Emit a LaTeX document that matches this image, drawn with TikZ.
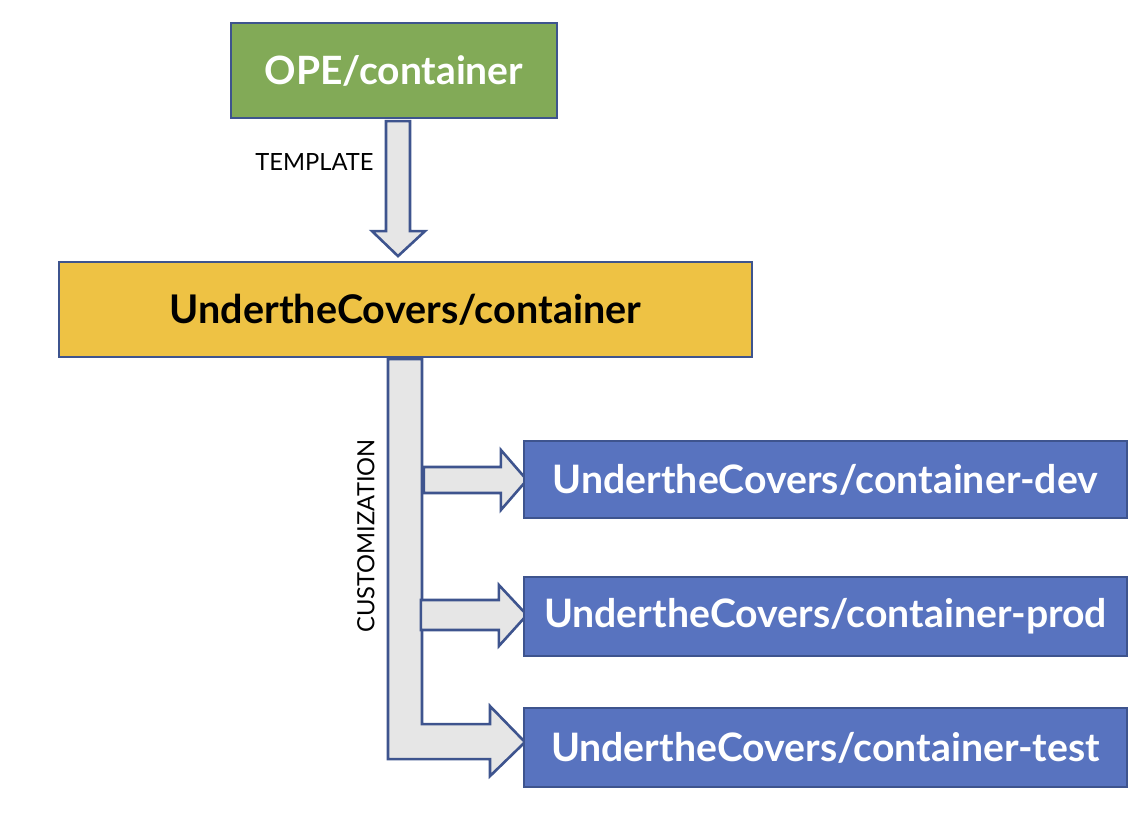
\documentclass[tikz,border=0pt]{standalone}
\usepackage{fontspec}
\setmainfont{Lato}
\usetikzlibrary{calc}
\pgfdeclarelayer{background}
\pgfsetlayers{background,main}
\definecolor{opegreen}{RGB}{130,170,87}
\definecolor{uctyellow}{RGB}{238,194,68}
\definecolor{envblue}{RGB}{88,115,191}
\definecolor{edgeblue}{RGB}{62,84,142}
\definecolor{arrowgray}{RGB}{230,230,230}

\begin{document}
\begin{tikzpicture}[x=1pt,y=-1pt,
  repo/.style={draw=edgeblue,line width=2.2pt,inner sep=0pt,font=\bfseries\fontsize{39.5}{46}\selectfont},
  envrepo/.style={repo,fill=envblue,text=white,minimum width=603pt,font=\bfseries\fontsize{39.2}{46}\selectfont},
  blockarrow/.style={draw=edgeblue,fill=arrowgray,line width=2.6pt,line join=miter},
  steplabel/.style={font=\fontsize{23.7}{28}\selectfont,inner sep=0pt}]
\useasboundingbox (0,0) rectangle (1145,813);

% repositories
\node[repo,fill=opegreen,text=white,minimum width=326pt,minimum height=95pt,font=\bfseries\fontsize{39}{46}\selectfont] (ope) at (394,70.5) {OPE/container};
\node[repo,fill=uctyellow,text=black,minimum width=693pt,minimum height=95pt] (uc) at (405.5,309.5) {UndertheCovers/container};
\node[envrepo,minimum height=77pt] (dev) at (825.5,479.5) {UndertheCovers/container-dev};
\node[envrepo,minimum height=79pt] (prod) at (825.5,616.5) {UndertheCovers/container-prod};
\node[envrepo,minimum height=79pt] (test) at (825.5,747.5) {UndertheCovers/container-test};

% block arrows
\begin{pgfonlayer}{background}
% template
\draw[blockarrow] ($(ope.south)+(-8,2)$) -- ++(24,0) -- ++(0,110) -- ++(15,0) -- ++(-27,25) -- ++(-26,-25) -- ++(14,0) -- cycle;
% customization trunk, ending in test
\draw[blockarrow] ($(uc.south)+(-17.5,1)$) -- ++(34,0) -- ++(0,365) -- ++(68,0) -- ++(0,-18) -- ++(35,36) -- ++(-35,34) -- ++(0,-17) -- ++(-102,0) -- cycle;
% branches to dev and prod
\draw[blockarrow] ($(dev.west)+(-99,-12.5)$) -- ++(77,0) -- ++(0,-17) -- ++(26,30) -- ++(-26,30) -- ++(0,-17) -- ++(-77,0) -- cycle;
\draw[blockarrow] ($(prod.west)+(-102,-16.5)$) -- ++(78,0) -- ++(0,-15) -- ++(28,30) -- ++(-28,31) -- ++(0,-16) -- ++(-78,0) -- cycle;
\end{pgfonlayer}

% labels
\node[steplabel] (template) at (314.5,162) {TEMPLATE};
\node[steplabel,rotate=90] (custom) at (366,536) {CUSTOMIZATION};
\end{tikzpicture}
\end{document}
